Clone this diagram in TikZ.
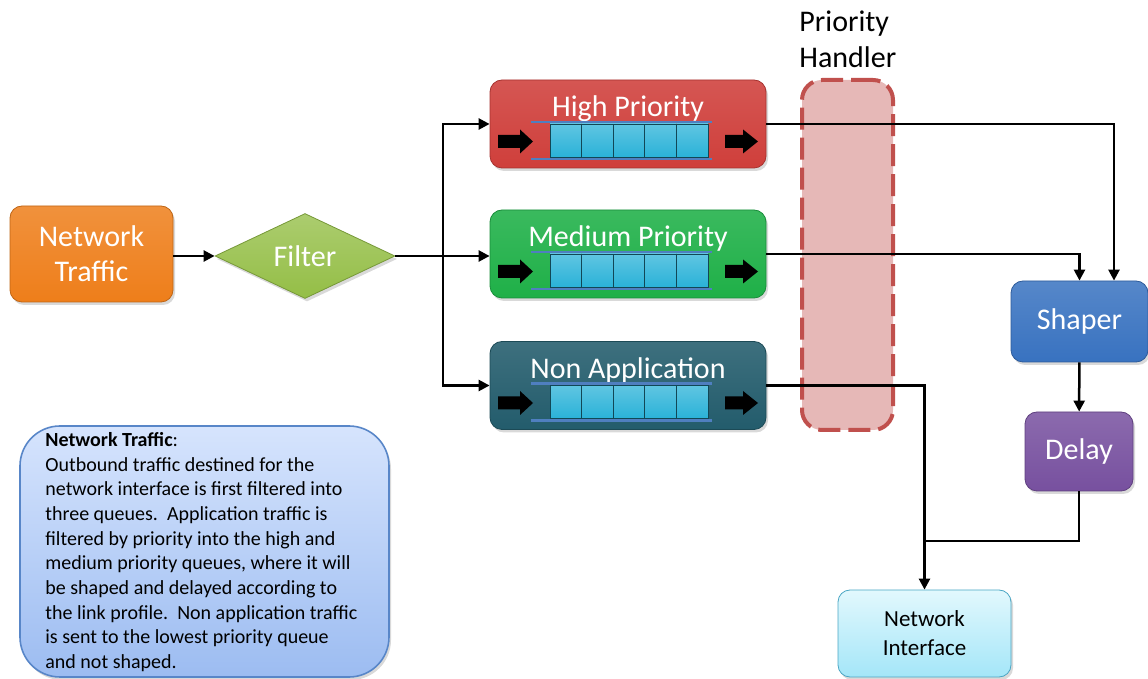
\documentclass[tikz,border=0pt]{standalone}
\usepackage{fontspec}
\setmainfont{Carlito}
\usepackage{tikz}
\usetikzlibrary{arrows.meta,shapes.geometric,shadows,positioning}

\definecolor{ntorange}{HTML}{EE7E1A}
\definecolor{fltgreen}{HTML}{94BE46}
\definecolor{hpred}{HTML}{CF3F3B}
\definecolor{mpgreen}{HTML}{1FB048}
\definecolor{nateal}{HTML}{235C6C}
\definecolor{cellblue}{HTML}{2AB2D8}
\definecolor{qline}{HTML}{4F7FC0}
\definecolor{phpink}{HTML}{E6B8B7}
\definecolor{phred}{HTML}{C0504D}
\definecolor{shpblue}{HTML}{3872C0}
\definecolor{dlypurple}{HTML}{77509F}
\definecolor{nitop}{HTML}{E2F8FD}
\definecolor{nibot}{HTML}{A4E6F8}
\definecolor{niborder}{HTML}{4AA6C4}
\definecolor{notetop}{HTML}{D6E4FD}
\definecolor{notebot}{HTML}{9CBCF1}
\definecolor{noteborder}{HTML}{5886C8}

\begin{document}
\begin{tikzpicture}[x=0.5pt, y=-0.5pt,
    every node/.style={inner sep=0pt},
    block/.style={rounded corners=6pt, text=white, align=center,
      font=\fontsize{15}{17.5}\selectfont,
      drop shadow={opacity=0.3, shadow xshift=1pt, shadow yshift=-1.5pt}},
    flow/.style={line width=1.25pt, -{Triangle[length=5.5pt,width=5.5pt]}},
    cell/.style={draw=cellblue!40!black, line width=0.4pt,
      top color=cellblue!75!white, bottom color=cellblue}]
  \useasboundingbox (0,0) rectangle (1148,679);

  % input and filter
  \node[block, top color=ntorange!85!white, bottom color=ntorange, draw=ntorange!80!black,
    minimum width=81.5pt, minimum height=48pt] (nt) at (91.5,254) {Network\\Traffic};
  \node[diamond, top color=fltgreen!78!white, bottom color=fltgreen, draw=fltgreen!80!black,
    text=white, font=\fontsize{15}{17.5}\selectfont, minimum width=90pt, minimum height=42.5pt,
    drop shadow={opacity=0.3, shadow xshift=1pt, shadow yshift=-1.5pt}] (flt) at (305,256) {Filter};

  % the three queues
  \foreach \nm/\yy/\ttl/\col in {hp/124/High Priority/hpred, mp/254/Medium Priority/mpgreen,
      na/385.5/Non Application/nateal} {
    \node[block, top color=\col!88!white, bottom color=\col, draw=\col!80!black,
      minimum width=138pt, minimum height=44pt] (\nm) at (628,\yy) {};
    \node[anchor=base, text=white, font=\fontsize{15}{17.5}\selectfont] (\nm-t)
      at ([yshift=3.5pt]\nm.center) {\ttl};
    \begin{scope}[shift={(\nm.center)}]
      \draw[qline, line width=1.2pt] (-97,-2) -- (84,-2) (-97,35) -- (84,35);
      \foreach \i in {0,...,4}
        \draw[cell] (-78+\i*31.6,0) rectangle ++(31.6,33);
      \fill (-130,11) -- (-108,11) -- (-108,5.5) -- (-95,17.5) -- (-108,29.5) -- (-108,24) -- (-130,24) -- cycle;
      \fill (97,11) -- (115,11) -- (115,5.5) -- (130,17.5) -- (115,29.5) -- (115,24) -- (97,24) -- cycle;
    \end{scope}
  }

  % priority handler
  \node[draw=phred, fill=phpink, dash pattern=on 11pt off 4pt, line width=2pt, rounded corners=10pt,
    minimum width=45.5pt, minimum height=175pt] (ph) at (847.5,255) {};
  \node[anchor=north west, align=left, font=\fontsize{15}{18}\selectfont] (ph-t) at (799,10) {Priority\\Handler};

  % output side
  \node[block, top color=shpblue!85!white, bottom color=shpblue, draw=shpblue!80!black,
    minimum width=68.5pt, minimum height=40.5pt] (shp) at (1079.5,321.5) {Shaper};
  \node[block, top color=dlypurple!85!white, bottom color=dlypurple, draw=dlypurple!80!black,
    minimum width=54pt, minimum height=39.5pt] (dly) at (1079,451.5) {Delay};
  \node[block, text=black, top color=nitop, bottom color=nibot, draw=niborder,
    font=\fontsize{11.5}{14.5}\selectfont, minimum width=86.5pt, minimum height=43.5pt]
    (ni) at (924.5,633.5) {Network\\Interface};

  % note
  \node[rounded corners=20pt, draw=noteborder, line width=0.8pt, top color=notetop, bottom color=notebot,
    minimum width=184.5pt, minimum height=125.5pt,
    drop shadow={opacity=0.3, shadow xshift=1pt, shadow yshift=-1.5pt}] (note) at (204.5,551.5) {};
  \node[anchor=north west, align=left, font=\fontsize{10}{12.33}\selectfont] (note-t) at (45,432)
    {\textbf{Network Traffic}:\\
     Outbound traffic destined for the\\
     network interface is first filtered into\\
     three queues.\ \ Application traffic is\\
     filtered by priority into the high and\\
     medium priority queues, where it will\\
     be shaped and delayed according to\\
     the link profile.\ \ Non application traffic\\
     is sent to the lowest priority queue\\
     and not shaped.};

  % connectors
  \coordinate (split) at (443,256);
  \coordinate (merge) at (924.5,541);
  \draw[flow] (nt.east |- flt.west) -- (flt.west);
  \draw[line width=1.25pt] (flt.east) -- (split);
  \draw[flow] (split) -- (split -| mp.west);
  \draw[flow] (split) |- (hp.west);
  \draw[flow] (split) |- (na.west);
  \draw[flow] (hp.east) -| ([xshift=17.25pt]shp.north);
  \draw[flow] (mp.east) -| (shp.north);
  \draw[flow] (na.east) -| (ni.north);
  \draw[flow] (shp) -- (dly);
  \draw[line width=1.25pt] (dly.south) |- (merge);
\end{tikzpicture}
\end{document}
